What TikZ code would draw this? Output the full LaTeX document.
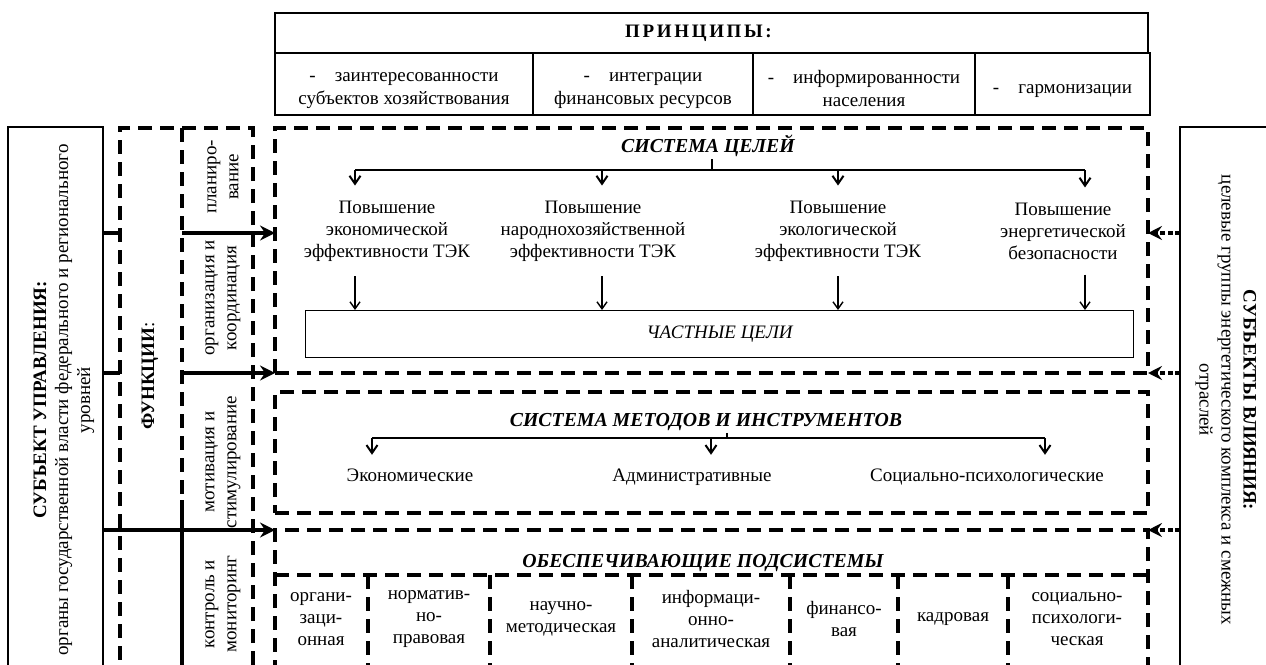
\documentclass[tikz,border=0pt]{standalone}
\usepackage{fontspec}
\setmainfont{Liberation Serif}
\newfontfamily\spacedfont[LetterSpace=14]{Liberation Serif}
\usetikzlibrary{arrows.meta}

\begin{document}
\begin{tikzpicture}[x=1pt,y=-1pt,
	every node/.style = {font=\fontsize{19}{22}\selectfont, align=center},
	sbox/.style = {draw, line width=2.6pt, inner sep=0pt, outer sep=0pt, anchor=north west},
	pcell/.style = {sbox, minimum height=62, font=\fontsize{19}{23}\selectfont, text height=46pt},
	dbox/.style = {draw, line width=3.6pt, dash pattern=on 14pt off 8pt, inner sep=0pt, outer sep=0pt, anchor=north west},
	dline/.style = {line width=3.6pt, dash pattern=on 14pt off 8pt},
	ttl/.style = {font=\fontsize{19.8}{22}\selectfont\bfseries\itshape, inner sep=2pt},
	goal/.style = {inner xsep=2pt, inner ysep=15pt},
	lbl/.style = {inner xsep=2pt, inner ysep=13pt, text height=13pt, text depth=4pt, anchor=base},
	branch/.style = {line width=1.1pt},
	vtip/.style = {line width=1.1pt, -{Straight Barb[length=8pt, width=11pt, line width=2pt]}},
	dtip/.style = {line width=1.4pt, -{Straight Barb[length=7pt, width=10pt, line width=1.4pt]}},
	fline/.style = {line width=3.6pt},
	farrow/.style = {line width=3.6pt, -{Stealth[length=15pt, width=15pt, inset=5pt]}},
	rarrow/.style = {line width=3.4pt, dash pattern=on 5pt off 2.5pt, -{Stealth[length=14pt, width=14pt, inset=5pt]}}]
	\useasboundingbox (0,0) rectangle (1266,664);
	\clip (0,0) rectangle (1266,664);

	\node[sbox, minimum width=873, minimum height=40] (prn) at (275,13) {\spacedfont\bfseries ПРИНЦИПЫ:\hspace*{26pt}};
	\node[pcell, minimum width=258] (pr1) at (prn.south west) {-\quad заинтересованности\\субъектов хозяйствования};
	\node[pcell, minimum width=220] (pr2) at (pr1.north east) {-\quad интеграции\\финансовых ресурсов};
	\node[pcell, minimum width=222] (pr3) at (pr2.north east) {-\quad информированности\\населения};
	\node[pcell, minimum width=175, text height=24pt] (pr4) at (pr3.north east) {-\quad гармонизации};

	\node[sbox, minimum width=95, minimum height=580] (subj) at (8,127) {};
	\node[rotate=90] (subjt) at (64,400) {\textbf{СУБЪЕКТ УПРАВЛЕНИЯ:}\\органы государственной власти федерального и регионального\\уровней};
	\node[sbox, minimum width=130, minimum height=580] (infl) at (1180,127) {};
	\node[rotate=-90] (inflt) at (1226,400) {\textbf{СУБЪЕКТЫ ВЛИЯНИЯ:}\\целевые группы энергетического комплекса и смежных\\отраслей};

	\node[dbox, minimum width=133, minimum height=580] (func) at (120,128) {};
	\coordinate (fd) at (182,128);
	\coordinate (fs) at (182,500);
	\draw[dline] (fd) -- (fs);
	\draw[fline] (fs) -- (fs |- subj.south);
	\node[rotate=90] (ft) at (150,376) {\textbf{ФУНКЦИИ}:};
	\node[rotate=90] (f1) at (223,177) {планиро-\\вание};
	\node[rotate=90] (f2) at (223,298) {организация и\\координация};
	\node[rotate=90] (f3) at (223,462) {мотивация и\\стимулирование};
	\node[rotate=90] (f4) at (223,604) {контроль и\\мониторинг};

	\node[dbox, minimum width=873, minimum height=245] (goals) at (275,128) {};
	\node[dbox, minimum width=873, minimum height=121] (meth) at (275,392) {};
	\node[dbox, minimum width=873, minimum height=170] (supp) at (275,530) {};

	\coordinate (r1) at (0,233);
	\coordinate (r2) at (0,373);
	\coordinate (r3) at (0,530);
	\draw[fline] (subj.east |- r1) -- (func.west |- r1);
	\draw[farrow] (fd |- r1) -- (goals.west |- r1);
	\draw[fline] (subj.east |- r2) -- (func.west |- r2);
	\draw[farrow] (fd |- r2) -- (goals.west |- r2);
	\draw[farrow] (subj.east |- r3) -- (supp.west |- r3);
	\draw[rarrow] (infl.west |- r1) -- (goals.east |- r1);
	\draw[rarrow] (infl.west |- r2) -- (goals.east |- r2);
	\draw[rarrow] (infl.west |- r3) -- (supp.east |- r3);

	\node[ttl] (gt) at (708,146) {СИСТЕМА ЦЕЛЕЙ};
	\coordinate (gb) at (712,170);
	\coordinate (b1) at (355,170);
	\coordinate (b2) at (602,170);
	\coordinate (b3) at (838,170);
	\coordinate (b4) at (1085,170);
	\draw[branch] (gb |- gt.south) -- (gb);
	\draw[branch] (b1) -- (b4);
	\node[goal] (g1) at (387,231) {Повышение\\экономической\\эффективности ТЭК};
	\node[goal] (g2) at (593,231) {Повышение\\народнохозяйственной\\эффективности ТЭК};
	\node[goal] (g3) at (838,231) {Повышение\\экологической\\эффективности ТЭК};
	\node[goal] (g4) at (1063,231) {Повышение\\энергетической\\безопасности};
	\draw[vtip] (b1) -- (b1 |- g1.north);
	\draw[vtip] (b2) -- (b2 |- g2.north);
	\draw[vtip] (b3) -- (b3 |- g3.north);
	\draw[vtip] (b4) -- (b4 |- g4.north);
	\node[draw, line width=1.3pt, minimum width=828, minimum height=47, anchor=north west, font=\fontsize{19}{22}\selectfont\itshape] (part) at (305,310) {ЧАСТНЫЕ ЦЕЛИ};
	\draw[dtip] (b1 |- g1.south) -- (b1 |- part.north);
	\draw[dtip] (b2 |- g2.south) -- (b2 |- part.north);
	\draw[dtip] (b3 |- g3.south) -- (b3 |- part.north);
	\draw[dtip] (b4 |- g4.south) -- (b4 |- part.north);

	\node[ttl] (mt) at (706,422) {СИСТЕМА МЕТОДОВ И ИНСТРУМЕНТОВ};
	\coordinate (mb) at (727,438);
	\coordinate (c1) at (372,438);
	\coordinate (c2) at (711,438);
	\coordinate (c3) at (1045,438);
	\draw[branch] (mb |- mt.south) -- (mb);
	\draw[branch] (c1) -- (c3);
	\node[lbl] (m1) at (410,481) {Экономические};
	\node[lbl] (m2) at (692,481) {Административные};
	\node[lbl] (m3) at (987,481) {Социально-психологические};
	\draw[vtip] (c1) -- (c1 |- m1.north);
	\draw[vtip] (c2) -- (c2 |- m2.north);
	\draw[vtip] (c3) -- (c3 |- m3.north);

	\node[ttl] (st) at (703,563) {ОБЕСПЕЧИВАЮЩИЕ ПОДСИСТЕМЫ};
	\coordinate (sl) at (275,575);
	\draw[dline] (sl) -- (supp.east |- sl);
	\draw[dline] (368,575) -- (368,700);
	\draw[dline] (490,575) -- (490,700);
	\draw[dline] (632,575) -- (632,700);
	\draw[dline] (790,575) -- (790,700);
	\draw[dline] (898,575) -- (898,700);
	\draw[dline] (1008,575) -- (1008,700);
	\node (s1) at (321,619) {органи-\\заци-\\онная};
	\node (s2) at (429,619) {норматив-\\но-\\правовая};
	\node (s3) at (561,619) {научно-\\методическая};
	\node (s4) at (711,619) {информаци-\\онно-\\аналитическая};
	\node (s5) at (844,619) {финансо-\\вая};
	\node (s6) at (953,619) {кадровая};
	\node (s7) at (1077,619) {социально-\\психологи-\\ческая};
\end{tikzpicture}
\end{document}
